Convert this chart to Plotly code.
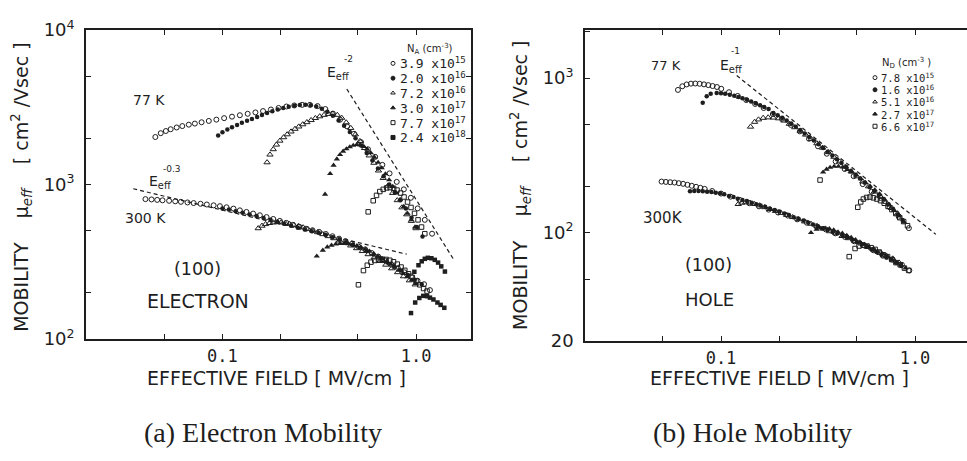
import plotly.graph_objects as go

W, H = 967, 461
INK = "#1e1e1e"

# ---------------- (a) electrons, N_A series ----------------
# 77 K
el77_39e15_E = [0.045, 0.048, 0.051, 0.054, 0.058, 0.062, 0.067, 0.072, 0.078, 0.085, 0.093, 0.102,
                0.112, 0.123, 0.135, 0.148, 0.162, 0.178, 0.195, 0.214, 0.235, 0.258, 0.283, 0.31,
                0.34, 0.372, 0.405, 0.44, 0.478, 0.52, 0.565, 0.615, 0.67, 0.73, 0.795, 0.865, 0.94,
                1.02, 1.11, 1.21]
el77_39e15_mu = [2030, 2150, 2220, 2280, 2340, 2390, 2440, 2480, 2530, 2580, 2630, 2690,
                 2750, 2810, 2870, 2930, 2990, 3060, 3130, 3200, 3250, 3280, 3280, 3220,
                 3080, 2880, 2630, 2380, 2130, 1880, 1690, 1510, 1340, 1180, 1040, 930, 820,
                 700, 590, 480]
el77_20e16_E = [0.095, 0.1, 0.106, 0.112, 0.119, 0.126, 0.134, 0.142, 0.151, 0.16, 0.17, 0.181,
                0.193, 0.206, 0.22, 0.235, 0.251, 0.268, 0.286, 0.305, 0.326, 0.348, 0.372, 0.398,
                0.425, 0.455, 0.487, 0.52, 0.556, 0.595, 0.636, 0.68, 0.727, 0.777, 0.83, 0.887,
                0.948, 1.01, 1.08]
el77_20e16_mu = [2074, 2180, 2270, 2350, 2430, 2510, 2590, 2660, 2740, 2820, 2900, 2980,
                 3060, 3130, 3190, 3240, 3270, 3280, 3260, 3200, 3100, 2960, 2790, 2600,
                 2400, 2190, 1990, 1790, 1600, 1430, 1270, 1130, 1000, 890, 790, 700,
                 610, 530, 460]
el77_72e16_E = [0.17, 0.176, 0.183, 0.19, 0.198, 0.207, 0.216, 0.226, 0.237, 0.248, 0.26, 0.273,
                0.287, 0.302, 0.318, 0.335, 0.353, 0.372, 0.392, 0.413, 0.436, 0.46, 0.486, 0.513,
                0.542, 0.573, 0.606, 0.64, 0.677, 0.716, 0.757, 0.8, 0.846, 0.895, 0.946, 1.0]
el77_72e16_mu = [1390, 1560, 1690, 1810, 1920, 2020, 2110, 2200, 2290, 2370, 2450, 2530,
                 2610, 2690, 2760, 2820, 2860, 2870, 2820, 2700, 2520, 2320, 2110, 1910,
                 1720, 1540, 1380, 1230, 1100, 980, 880, 790, 710, 640, 580, 520]
el77_30e17_E = [0.339, 0.36, 0.375, 0.39, 0.405, 0.42, 0.437, 0.455, 0.474, 0.494, 0.515, 0.537,
                0.56, 0.584, 0.61, 0.637, 0.665, 0.695, 0.726, 0.758, 0.792, 0.828, 0.865, 0.904,
                0.945, 0.988]
el77_30e17_mu = [863, 1174, 1330, 1460, 1560, 1640, 1700, 1750, 1790, 1810, 1800, 1760,
                 1690, 1600, 1500, 1390, 1280, 1170, 1070, 970, 880, 800, 720, 650, 590, 530]
el77_77e17_E = [0.566, 0.601, 0.625, 0.65, 0.677, 0.705, 0.735, 0.766, 0.798, 0.832, 0.867, 0.904,
                0.942, 0.982, 1.024, 1.068, 1.11]
el77_77e17_mu = [665, 785, 850, 900, 930, 950, 955, 945, 920, 880, 830, 770, 710, 650, 590, 530, 480]
el77_24e18_E = [0.98, 1.03, 1.07, 1.11, 1.15, 1.2, 1.25, 1.3, 1.35, 1.41]
el77_24e18_mu = [272, 300, 318, 330, 335, 333, 325, 312, 295, 273]

# 300 K
el300_39e15_E = [0.04, 0.043, 0.046, 0.049, 0.053, 0.057, 0.061, 0.066, 0.071, 0.077, 0.083, 0.09,
                 0.097, 0.105, 0.114, 0.123, 0.133, 0.144, 0.156, 0.169, 0.183, 0.198, 0.214, 0.231,
                 0.25, 0.27, 0.292, 0.316, 0.342, 0.37, 0.4, 0.432, 0.467, 0.505, 0.546, 0.59, 0.638,
                 0.69, 0.746, 0.806, 0.871, 0.942, 1.018, 1.1, 1.18]
el300_39e15_mu = [804, 800, 795, 790, 784, 778, 772, 765, 758, 750, 742, 733,
                  724, 712, 698, 680, 664, 648, 632, 615, 598, 581, 564, 548,
                  532, 517, 505, 493, 478, 462, 446, 430, 413, 396, 380, 360, 341,
                  322, 303, 287, 270, 254, 238, 226, 207]
el300_20e16_E = [0.1, 0.108, 0.117, 0.127, 0.138, 0.15, 0.163, 0.177, 0.192, 0.208, 0.226, 0.245,
                 0.266, 0.289, 0.314, 0.341, 0.37, 0.402, 0.436, 0.473, 0.513, 0.557, 0.604, 0.655,
                 0.711, 0.771, 0.837, 0.908, 0.985, 1.07]
el300_20e16_mu = [700, 688, 672, 656, 640, 624, 607, 590, 573, 556, 540, 525,
                  511, 498, 486, 472, 456, 440, 423, 406, 389, 371, 352, 333,
                  313, 295, 277, 259, 242, 226]
el300_72e16_E = [0.153, 0.16, 0.167, 0.175, 0.183, 0.192, 0.201, 0.211, 0.222, 0.234, 0.247, 0.261,
                 0.276, 0.292, 0.31, 0.33, 0.352, 0.376, 0.402, 0.43, 0.46, 0.493, 0.528, 0.566,
                 0.607, 0.651, 0.698, 0.749, 0.803, 0.861, 0.924, 0.99]
el300_72e16_mu = [520, 540, 553, 562, 567, 569, 567, 562, 555, 547, 538, 527,
                  515, 503, 490, 476, 462, 448, 433, 418, 402, 386, 370, 353,
                  336, 319, 302, 286, 270, 254, 239, 225]
el300_30e17_E = [0.307, 0.33, 0.348, 0.366, 0.385, 0.405, 0.426, 0.448, 0.471, 0.495, 0.52, 0.547,
                 0.575, 0.605, 0.636, 0.669, 0.703, 0.739, 0.777, 0.817, 0.859, 0.903, 0.95, 0.998]
el300_30e17_mu = [343, 375, 393, 404, 411, 414, 414, 412, 408, 401, 392, 381,
                  369, 356, 343, 330, 317, 304, 291, 278, 265, 252, 240, 228]
el300_77e17_E = [0.504, 0.535, 0.56, 0.585, 0.612, 0.64, 0.669, 0.7, 0.732, 0.765, 0.8, 0.837,
                 0.875, 0.915, 0.957, 1.0, 1.046, 1.094, 1.14]
el300_77e17_mu = [224, 277, 300, 314, 322, 326, 328, 327, 323, 316, 305, 292,
                  278, 264, 250, 237, 224, 212, 204]
el300_24e18_E = [0.942, 0.99, 1.04, 1.09, 1.14, 1.18, 1.23, 1.29, 1.34, 1.4]
el300_24e18_mu = [147, 172, 184, 190, 189, 185, 180, 172, 166, 159]

# guide lines  mu = C * E^n  (n, C, E_start, E_end)
el_guides = [(-2.0, 800.0, 0.439, 1.56), (-0.3, 342.0, 0.0346, 0.895)]

el_legend_labels = ["3.9 x10<sup>15</sup>", "2.0 x10<sup>16</sup>", "7.2 x10<sup>16</sup>",
                    "3.0 x10<sup>17</sup>", "7.7 x10<sup>17</sup>", "2.4 x10<sup>18</sup>"]
el_symbols = ["oc", "fc", "ot", "ft", "os", "fs"]

# ---------------- (b) holes, N_D series ----------------
ho77_78e15_E = [0.06, 0.0632, 0.0665, 0.07, 0.0737, 0.0776, 0.0817, 0.086, 0.0905, 0.0953, 0.1003,
                0.11, 0.122, 0.135, 0.15, 0.166, 0.185, 0.206, 0.229, 0.255, 0.284, 0.316, 0.351,
                0.39, 0.434, 0.483, 0.538, 0.598, 0.665, 0.74, 0.824, 0.93]
ho77_78e15_mu = [838, 885, 909, 920, 922, 918, 910, 900, 888, 875, 852,
                 810, 766, 720, 680, 640, 585, 545, 498, 452, 405, 362, 324,
                 289, 258, 232, 206, 184, 168, 146, 127, 107]
ho77_16e16_E = [0.0805, 0.0844, 0.0885, 0.095, 0.1, 0.105, 0.111, 0.117, 0.123, 0.129, 0.136,
                0.143, 0.151, 0.159, 0.167, 0.176, 0.186, 0.196, 0.207, 0.218, 0.23, 0.243, 0.256,
                0.27, 0.285, 0.301, 0.318, 0.336, 0.355, 0.375, 0.396, 0.418, 0.442, 0.467, 0.494,
                0.522, 0.552, 0.584, 0.617, 0.652, 0.69, 0.73, 0.772, 0.816, 0.863]
ho77_16e16_mu = [693, 762, 790, 800, 798, 790, 780, 768, 755, 740, 724,
                 706, 688, 668, 650, 630, 595, 575, 553, 531, 508, 484, 461,
                 438, 416, 394, 373, 353, 334, 316, 298, 282, 266, 251, 237,
                 224, 210, 197, 186, 176, 165, 153, 142, 131, 121]
ho77_51e16_E = [0.142, 0.149, 0.156, 0.165, 0.175, 0.186, 0.198, 0.211, 0.225, 0.24, 0.256, 0.273,
                0.292, 0.312, 0.334, 0.357, 0.382, 0.409, 0.438, 0.469, 0.502, 0.538, 0.576, 0.617,
                0.661, 0.708, 0.758, 0.812]
ho77_51e16_mu = [484, 520, 539, 552, 556, 554, 548, 530, 505, 480, 455, 430,
                 403, 378, 354, 331, 309, 288, 267, 249, 231, 214, 199, 184,
                 172, 158, 145, 133]
ho77_27e17_E = [0.336, 0.35, 0.365, 0.383, 0.403, 0.424, 0.447, 0.471, 0.497, 0.525, 0.555, 0.587,
                0.621, 0.657, 0.696, 0.737, 0.781, 0.828, 0.878]
ho77_27e17_mu = [246, 257, 264, 268, 268, 265, 256, 246, 236, 223, 211, 200,
                 189, 178, 164, 151, 139, 128, 117]
ho77_66e17_E = [0.324, 0.507, 0.525, 0.542, 0.563, 0.586, 0.61, 0.636, 0.664, 0.694, 0.726, 0.76,
                0.796, 0.834, 0.874, 0.915]
ho77_66e17_mu = [219, 146, 158, 165, 169, 170, 168, 165, 161, 155, 148, 141, 133, 125, 118, 111]

ho300_78e15_E = [0.0494, 0.052, 0.0547, 0.0576, 0.0606, 0.0638, 0.0672, 0.0707, 0.0744, 0.0783,
                 0.0824, 0.09, 0.1, 0.112, 0.125, 0.14, 0.157, 0.176, 0.197, 0.221, 0.247, 0.277,
                 0.31, 0.347, 0.389, 0.435, 0.487, 0.545, 0.61, 0.683, 0.765, 0.856, 0.935]
ho300_78e15_mu = [214, 213, 212, 211, 209, 207, 204, 201, 198, 195,
                  192, 186, 179, 171, 163, 155, 148, 141, 135, 129, 122, 116,
                  110, 105, 99, 94, 88, 83, 77, 71, 67, 62, 57]
ho300_16e16_E = [0.0692, 0.0728, 0.0766, 0.0806, 0.0848, 0.0893, 0.094, 0.099, 0.104, 0.11, 0.116,
                 0.122, 0.129, 0.136, 0.144, 0.152, 0.16, 0.169, 0.179, 0.189, 0.2, 0.212, 0.224,
                 0.237, 0.251, 0.266, 0.282, 0.298, 0.316, 0.335, 0.355, 0.376, 0.398, 0.422, 0.447,
                 0.474, 0.502, 0.532, 0.564, 0.598, 0.634, 0.672, 0.712, 0.755, 0.8, 0.848]
ho300_16e16_mu = [185, 186, 186, 185, 184, 183, 181, 180, 177, 173, 170,
                  166, 163, 160, 156, 153, 150, 147, 143, 140, 137, 133, 130,
                  126, 123, 120, 116, 113, 110, 107, 104, 101, 99, 96, 93,
                  90, 87, 84, 81, 78, 75, 72, 69, 67, 64, 61]
ho300_51e16_E = [0.1227, 0.128, 0.134, 0.141, 0.149, 0.158, 0.168, 0.179, 0.191, 0.204, 0.218, 0.234,
                 0.251, 0.27, 0.291, 0.313, 0.337, 0.363, 0.391, 0.421, 0.454, 0.489, 0.527, 0.568,
                 0.612, 0.66, 0.712, 0.768, 0.828]
ho300_51e16_mu = [153, 156, 157, 156, 153, 150, 146, 142, 138, 134, 130, 126,
                  122, 118, 114, 110, 106, 102, 99, 95, 92, 88, 85, 81,
                  78, 74, 71, 68, 64]
ho300_27e17_E = [0.291, 0.311, 0.327, 0.344, 0.362, 0.381, 0.401, 0.422, 0.445, 0.469, 0.494, 0.52,
                 0.548, 0.578, 0.61, 0.644, 0.68, 0.718, 0.758, 0.8, 0.845, 0.893]
ho300_27e17_mu = [100, 105, 107, 107, 106, 104, 101, 99, 96, 93, 90, 87,
                  84, 81, 78, 75, 73, 70, 67, 64, 62, 59]
ho300_66e17_E = [0.458, 0.491, 0.515, 0.54, 0.566, 0.594, 0.623, 0.654, 0.687, 0.722, 0.759, 0.798,
                 0.839, 0.882, 0.927]
ho300_66e17_mu = [70, 79, 82, 83, 82, 80, 78, 75, 72, 70, 67, 64, 62, 59, 57]

ho_guides = [(-1.0, 125.0, 0.1205, 1.282)]

ho_legend_labels = ["7.8 x10<sup>15</sup>", "1.6 x10<sup>16</sup>", "5.1 x10<sup>16</sup>",
                    "2.7 x10<sup>17</sup>", "6.6 x10<sup>17</sup>"]
ho_symbols = ["oc", "fc", "ot", "ft", "os"]

# ---------------- styling ----------------
MARKERS = {
    "oc": dict(symbol="circle-open", size=5, color=INK, line=dict(width=1, color=INK)),
    "fc": dict(symbol="circle", size=4.5, color=INK, line=dict(width=0)),
    "ot": dict(symbol="triangle-up-open", size=5.5, color=INK, line=dict(width=1, color=INK)),
    "ft": dict(symbol="triangle-up", size=5.5, color=INK, line=dict(width=0)),
    "os": dict(symbol="square-open", size=4.5, color=INK, line=dict(width=1, color=INK)),
    "fs": dict(symbol="square", size=4.5, color=INK, line=dict(width=0)),
}

el_series = [
    (el77_39e15_E, el77_39e15_mu, "oc"), (el77_20e16_E, el77_20e16_mu, "fc"),
    (el77_72e16_E, el77_72e16_mu, "ot"), (el77_30e17_E, el77_30e17_mu, "ft"),
    (el77_77e17_E, el77_77e17_mu, "os"), (el77_24e18_E, el77_24e18_mu, "fs"),
    (el300_39e15_E, el300_39e15_mu, "oc"), (el300_20e16_E, el300_20e16_mu, "fc"),
    (el300_72e16_E, el300_72e16_mu, "ot"), (el300_30e17_E, el300_30e17_mu, "ft"),
    (el300_77e17_E, el300_77e17_mu, "os"), (el300_24e18_E, el300_24e18_mu, "fs"),
]
ho_series = [
    (ho77_78e15_E, ho77_78e15_mu, "oc"), (ho77_16e16_E, ho77_16e16_mu, "fc"),
    (ho77_51e16_E, ho77_51e16_mu, "ot"), (ho77_27e17_E, ho77_27e17_mu, "ft"),
    (ho77_66e17_E, ho77_66e17_mu, "os"),
    (ho300_78e15_E, ho300_78e15_mu, "oc"), (ho300_16e16_E, ho300_16e16_mu, "fc"),
    (ho300_51e16_E, ho300_51e16_mu, "ot"), (ho300_27e17_E, ho300_27e17_mu, "ft"),
    (ho300_66e17_E, ho300_66e17_mu, "os"),
]

fig = go.Figure()


def add_panel(series, guides, xa, ya):
    for E, mu, key in series:
        fig.add_trace(go.Scatter(x=E, y=mu, mode="markers", marker=MARKERS[key],
                                 xaxis=xa, yaxis=ya, showlegend=False, hoverinfo="skip"))
    for n, c, e0, e1 in guides:
        fig.add_trace(go.Scatter(x=[e0, e1], y=[c * e0 ** n, c * e1 ** n], mode="lines",
                                 line=dict(color=INK, width=1.2, dash="4px,3px"),
                                 xaxis=xa, yaxis=ya, showlegend=False, hoverinfo="skip"))


add_panel(el_series, el_guides, "x", "y")
add_panel(ho_series, ho_guides, "x2", "y2")


def px(x):
    return x / W


def py(y):
    return 1 - y / H


# legend keys drawn on a pixel-space overlay axis
def legend_block(x_mark, x_text, ys, labels, symbols, title, title_xy, size):
    fig.add_trace(go.Scatter(
        x=[x_mark] * len(ys), y=ys, mode="markers", xaxis="x3", yaxis="y3",
        marker=dict(symbol=[MARKERS[s]["symbol"] for s in symbols], size=4, color=INK,
                    line=dict(width=1, color=INK)),
        showlegend=False, hoverinfo="skip"))
    for yv, lab in zip(ys, labels):
        fig.add_annotation(x=px(x_text), y=py(yv), xref="paper", yref="paper", text=lab,
                           showarrow=False, xanchor="left", yanchor="middle",
                           font=dict(family="DejaVu Sans Mono", size=size, color=INK))
    fig.add_annotation(x=px(title_xy[0]), y=py(title_xy[1]), xref="paper", yref="paper",
                       text=title, showarrow=False, xanchor="center", yanchor="middle",
                       font=dict(family="DejaVu Sans", size=10, color=INK))


legend_block(393, 398, [53, 68.6, 84.2, 99.8, 115.4, 131], el_legend_labels, el_symbols,
             "N<sub>A</sub> (cm<sup>-3</sup>)", (430, 38), 13)
legend_block(875, 879, [68, 80.8, 93.6, 106.4, 119.2], ho_legend_labels, ho_symbols,
             "N<sub>D</sub> (cm<sup>-3</sup> )", (906, 53), 10.5)


def label(text, x, y, size=14, family="DejaVu Sans", angle=0, anchor="center"):
    fig.add_annotation(x=px(x), y=py(y), xref="paper", yref="paper", text=text,
                       showarrow=False, xanchor=anchor, yanchor="middle", textangle=angle,
                       font=dict(family=family, size=size, color=INK))


# panel (a) labels
label("77 K", 149, 92, 14)
label("E<sub>eff</sub>", 338, 63, 14)
label("-2", 348, 48, 9)
label("E<sub>eff</sub>", 160, 178, 14)
label("-0.3", 172, 164, 9)
label("300 K", 145, 216, 14)
label("(100)", 197, 269, 17.5)
label("ELECTRON", 198, 303, 19)

# panel (b) labels
label("77 K", 666, 55, 13)
label("E<sub>eff</sub>", 731, 56, 14)
label("-1", 735, 40, 9)
label("300K", 663, 216, 15)
label("(100)", 708, 265, 17.5)
label("HOLE", 709, 302, 18)

# axis titles
GAP = "\u00a0" * 4
ytitle = "MOBILITY" + GAP + "\u03bc<sub><i>eff</i></sub>" + GAP + "[ cm<sup>2</sup> /Vsec ]"
label("EFFECTIVE FIELD [ MV/cm ]", 276, 384, 19)
label("EFFECTIVE FIELD [ MV/cm ]", 779, 384, 19)
label(ytitle, 22, 184, 19, angle=-90)
label(ytitle, 521, 182, 19, angle=-90)

# captions
label("(a) Electron Mobility", 263, 442, 28, family="Liberation Serif")
label("(b) Hole Mobility", 752, 442, 28, family="Liberation Serif")

axis_common = dict(type="log", showgrid=False, zeroline=False, showline=True, linewidth=1.6,
                   linecolor=INK, ticks="inside", ticklen=5, tickwidth=1.3, tickcolor=INK,
                   tickfont=dict(family="DejaVu Sans", size=18, color=INK))

x_ticks = [0.05, 0.1, 0.2, 0.5, 1, 2]
x_text = ["", "0.1", "", "", "1.0", ""]
x_font = dict(family="DejaVu Sans Mono", size=17, color=INK)

fig.update_layout(
    width=W, height=H, margin=dict(l=0, r=0, t=0, b=0),
    paper_bgcolor="white", plot_bgcolor="rgba(0,0,0,0)", showlegend=False,
    xaxis=dict(axis_common, domain=[86 / W, 471 / W], range=[-1.705, 0.284], anchor="y",
               tickvals=x_ticks, ticktext=x_text, mirror="ticks", tickfont=x_font,
               ticklabelstandoff=1),
    yaxis=dict(axis_common, domain=[py(343), py(18)], range=[2, 4], anchor="x",
               tickvals=[100, 200, 500, 1000, 2000, 5000, 10000],
               ticktext=["10<sup>2</sup>", "", "", "10<sup>3</sup>", "", "", "10<sup>4</sup>"],
               mirror="ticks", ticklabelstandoff=6),
    xaxis2=dict(axis_common, domain=[585 / W, 1.0], range=[-1.701, 0.268], anchor="y2",
                tickvals=x_ticks, ticktext=x_text, mirror="ticks", tickfont=x_font,
                ticklabelstandoff=1),
    yaxis2=dict(axis_common, domain=[py(345), py(18)], range=[1.30103, 3.31], anchor="x2",
                tickvals=[20, 50, 100, 200, 500, 1000, 2000],
                ticktext=["20", "", "10<sup>2</sup>", "", "", "10<sup>3</sup>", ""],
                mirror=False, ticklabelstandoff=6),
    xaxis3=dict(domain=[0, 1], range=[0, W], visible=False, anchor="y3", fixedrange=True),
    yaxis3=dict(domain=[0, 1], range=[H, 0], visible=False, anchor="x3", fixedrange=True),
)

fig.write_html("out.html")
